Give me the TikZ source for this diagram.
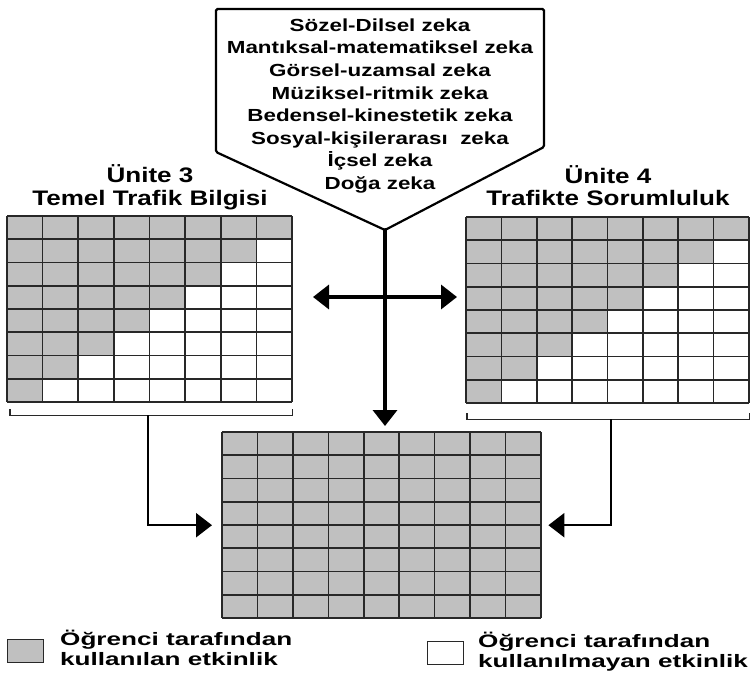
\documentclass[tikz,border=0pt]{standalone}
\usepackage{fontspec}
\setmainfont{Liberation Sans}
\newfontfamily\pentfont{Liberation Sans}[FakeStretch=1.28]
\newfontfamily\headfont{Liberation Sans}[FakeStretch=1.24]
\newfontfamily\legfont{Liberation Sans}[FakeStretch=1.45]
\definecolor{cellgray}{RGB}{192,192,192}
\definecolor{linegray}{RGB}{40,40,40}
\usetikzlibrary{arrows.meta,positioning,calc}

\begin{document}
\begin{tikzpicture}[x=1pt,y=-1pt,
  gridbox/.style={anchor=north west,inner sep=0pt,minimum height=186pt},
  gridline/.style={draw=linegray,line width=1.6pt},
  bigarrow/.style={line width=3.5pt,-{Triangle[length=16pt,width=24pt]}},
  sidearrow/.style={line width=2.5pt,-{Triangle[length=16pt,width=24pt]}},
  bracket/.style={draw=linegray,line width=1.4pt},
  pentext/.style={anchor=base,inner sep=0pt,font=\pentfont\bfseries\fontsize{17.5}{22}\selectfont},
  headtext/.style={anchor=base,inner sep=0pt,font=\headfont\bfseries\fontsize{21}{23}\selectfont},
  legtext/.style={anchor=base west,inner sep=0pt,font=\legfont\bfseries\fontsize{18}{20}\selectfont},
  legbox/.style={draw=linegray,line width=1.4pt,anchor=north west,inner sep=0pt,minimum width=36pt,minimum height=23pt}]
  \useasboundingbox[fill=white] (0,0) rectangle (756,675);

  \coordinate (tip) at (385,230);
  \draw[line width=2.2pt,rounded corners=1.5pt] (216,9) -- (544,9) -- (544,147) -- (tip) -- (216,152) -- cycle;
  \foreach \t [count=\i] in {Sözel-Dilsel zeka,Mantıksal-matematiksel zeka,Görsel-uzamsal zeka,Müziksel-ritmik zeka,Bedensel-kinestetik zeka,Sosyal-kişilerarası\ \ zeka,İçsel zeka,Doğa zeka}
    \node[pentext] (z\i) at (380,{8.7+22.6*\i}) {\t};

  \node[headtext] (h3a) at (150,182) {Ünite 3};
  \node[headtext] (h3b) at (150,205) {Temel Trafik Bilgisi};
  \node[headtext] (h4a) at (608,183) {Ünite 4};
  \node[headtext] (h4b) at (608,205) {Trafikte Sorumluluk};

  \node[gridbox,minimum width=285pt] (u3) at (7,216) {};
  \node[gridbox,minimum width=283pt] (u4) at (466,217) {};
  \node[gridbox,minimum width=319pt] (sum) at (222,432) {};

  \begin{scope}[shift={(u3.north west)}]
    \foreach \r in {0,...,7}{
      \pgfmathtruncatemacro\last{7-\r}
      \foreach \c in {0,...,\last}
        \fill[cellgray] (\c*35.625,\r*23.25) rectangle ++(35.625,23.25);
    }
    \foreach \c in {0,...,8} \draw[gridline] (\c*35.625,0) -- ++(0,186);
    \foreach \r in {0,...,8} \draw[gridline] (0,\r*23.25) -- ++(285,0);
  \end{scope}

  \begin{scope}[shift={(u4.north west)}]
    \foreach \r in {0,...,7}{
      \pgfmathtruncatemacro\last{7-\r}
      \foreach \c in {0,...,\last}
        \fill[cellgray] (\c*35.375,\r*23.25) rectangle ++(35.375,23.25);
    }
    \foreach \c in {0,...,8} \draw[gridline] (\c*35.375,0) -- ++(0,186);
    \foreach \r in {0,...,8} \draw[gridline] (0,\r*23.25) -- ++(283,0);
  \end{scope}

  \fill[cellgray] (sum.north west) rectangle (sum.south east);
  \begin{scope}[shift={(sum.north west)}]
    \foreach \c in {0,...,9} \draw[gridline] (\c*35.444,0) -- ++(0,186);
    \foreach \r in {0,...,8} \draw[gridline] (0,\r*23.25) -- ++(319,0);
  \end{scope}

  \draw[bracket] ([shift={(3,7)}]u3.south west) -- ++(0,6) -| ([shift={(0,7)}]u3.south east);
  \draw[bracket] ([shift={(1,10)}]u4.south west) -- ++(0,6) -| ([shift={(0,10)}]u4.south east);
  \coordinate (u3b) at ($(u3.south)+(-1.5,13)$);
  \coordinate (u4b) at ($(u4.south)+(3.5,16)$);
  \draw[sidearrow,shorten >=10pt] (u3b) |- (sum.west);
  \draw[sidearrow,shorten >=7pt] (u4b) |- (sum.east);

  \draw[bigarrow,shorten >=6pt] (tip) -- (tip |- sum.north);
  \coordinate (cl) at (313,297);
  \coordinate (cr) at (457,297);
  \draw[bigarrow,{Triangle[length=16pt,width=24pt]}-{Triangle[length=16pt,width=24pt]}] (cl) -- (cr);

  \node[legbox,fill=cellgray] (k1) at (7,639) {};
  \node[legtext] (k1a) at (60,645) {Öğrenci tarafından};
  \node[legtext] (k1b) at (60,665) {kullanılan etkinlik};
  \node[legbox,fill=white] (k2) at (427,641) {};
  \node[legtext] (k2a) at (478,647) {Öğrenci tarafından};
  \node[legtext] (k2b) at (478,667) {kullanılmayan etkinlik};
\end{tikzpicture}
\end{document}
